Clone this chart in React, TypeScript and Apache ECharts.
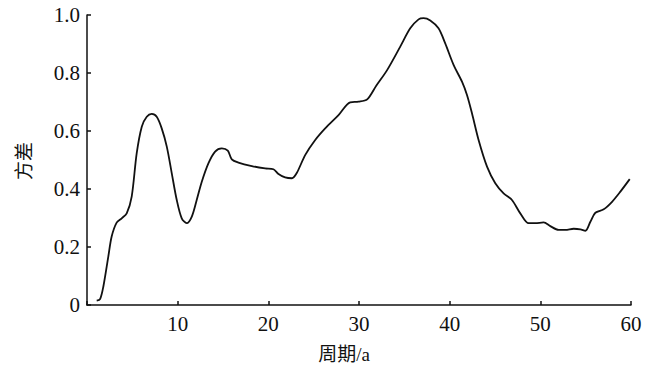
import React, { useEffect, useRef } from "react";
import * as echarts from "echarts";

const periods: number[] = [
  1.07, 1.44, 1.8, 2.35, 2.72, 3.27, 3.83, 4.38, 4.93, 5.48, 6.04, 6.59, 7.14, 7.69, 8.24, 8.8,
  9.35, 9.9, 10.45, 11.0, 11.56, 12.1, 12.66, 13.4, 14.13, 14.87, 15.53, 15.97, 16.7, 18.18,
  19.65, 20.56, 21.12, 21.85, 22.6, 23.15, 24.06, 25.17, 26.27, 27.74, 29.03, 29.95, 30.9,
  31.9, 33.1, 34.55, 35.65, 36.57, 37.12, 37.86, 38.77, 39.51, 40.43, 41.36, 41.91, 42.46,
  43.19, 44.12, 45.03, 45.95, 46.87, 47.79, 48.71, 49.45, 50.36, 51.1, 52.02, 52.76, 53.68,
  54.42, 54.97, 55.52, 56.07, 56.99, 57.91, 58.83, 59.86,
];
const variance: number[] = [
  0.015, 0.02, 0.063, 0.167, 0.236, 0.284, 0.299, 0.316, 0.374, 0.523, 0.615, 0.649, 0.659,
  0.649, 0.609, 0.546, 0.454, 0.362, 0.299, 0.282, 0.305, 0.362, 0.425, 0.489, 0.529, 0.54,
  0.532, 0.502, 0.491, 0.479, 0.471, 0.468, 0.452, 0.44, 0.437, 0.456, 0.517, 0.569, 0.609,
  0.655, 0.699, 0.701, 0.709, 0.756, 0.81, 0.891, 0.954, 0.985, 0.989, 0.981, 0.954, 0.902,
  0.828, 0.77, 0.724, 0.661, 0.569, 0.477, 0.42, 0.385, 0.362, 0.316, 0.282, 0.282, 0.285,
  0.272, 0.259, 0.259, 0.263, 0.261, 0.256, 0.287, 0.318, 0.33, 0.356, 0.391, 0.434,
];
const xAxisTitle = "周期/a";
const yAxisTitle = "方差";

const serif = "Liberation Serif, Noto Sans CJK SC, serif";

export default function App() {
  const ref = useRef<HTMLDivElement>(null);
  useEffect(() => {
    if (!ref.current) return;
    const chart = echarts.init(ref.current, undefined, { renderer: "svg" });
    const data = periods.map((p, i) => [p, variance[i]]);
    chart.setOption({
      animation: false,
      backgroundColor: "#ffffff",
      textStyle: { fontFamily: serif },
      grid: { left: 87, right: 26, top: 15, bottom: 64, containLabel: false },
      xAxis: {
        type: "value",
        min: 0,
        max: 60,
        interval: 10,
        axisLine: { show: true, lineStyle: { color: "#111", width: 1.5 } },
        axisTick: { show: true, inside: true, length: 4, lineStyle: { color: "#111", width: 1.5 } },
        splitLine: { show: false },
        axisLabel: {
          color: "#111",
          fontFamily: serif,
          fontSize: 21,
          margin: 8,
          formatter: (v: number) => (v === 0 ? "" : String(v)),
        },
      },
      yAxis: {
        type: "value",
        min: 0,
        max: 1,
        interval: 0.2,
        axisLine: { show: true, lineStyle: { color: "#111", width: 1.5 } },
        axisTick: { show: true, inside: true, length: 4, lineStyle: { color: "#111", width: 1.5 } },
        splitLine: { show: false },
        axisLabel: {
          color: "#111",
          fontFamily: serif,
          fontSize: 21,
          margin: 7,
          formatter: (v: number) => (v === 0 ? "0" : v.toFixed(1)),
        },
      },
      series: [
        {
          type: "line",
          data,
          smooth: 0.3,
          showSymbol: false,
          lineStyle: { color: "#111", width: 1.8 },
        },
      ],
      graphic: [
        {
          type: "text",
          x: 344,
          y: 354,
          style: {
            text: xAxisTitle,
            fill: "#111",
            fontFamily: serif,
            fontSize: 19,
            textAlign: "center",
            textVerticalAlign: "middle",
          },
        },
        {
          type: "text",
          x: 24,
          y: 161,
          rotation: Math.PI / 2,
          style: {
            text: yAxisTitle,
            fill: "#111",
            fontFamily: serif,
            fontSize: 19,
            textAlign: "center",
            textVerticalAlign: "middle",
          },
        },
      ],
    });
    return () => chart.dispose();
  }, []);
  return (
    <div
      ref={ref}
      style={{ position: "fixed", left: 0, top: 0, width: 657, height: 369, background: "#fff" }}
    />
  );
}
